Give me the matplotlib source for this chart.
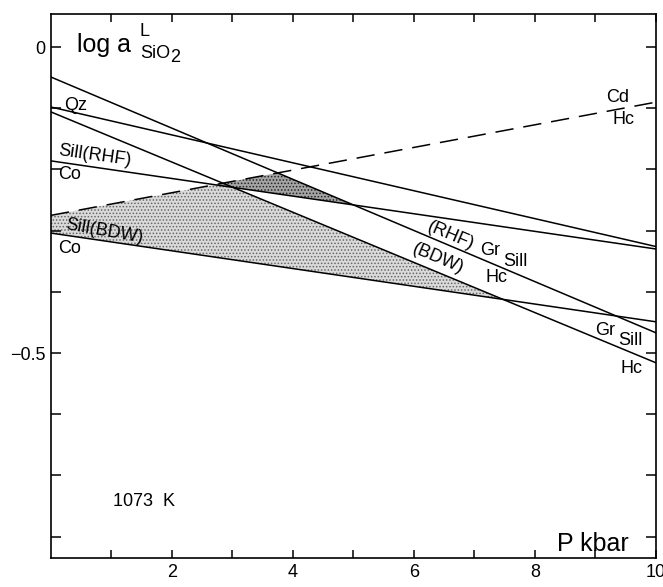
import matplotlib
matplotlib.use("Agg")
import matplotlib.pyplot as plt
import numpy as np

plt.rcParams['font.family'] = ['Liberation Sans', 'DejaVu Sans']
plt.rcParams['hatch.linewidth'] = 0.7

# pressure range (kbar) and log a(SiO2) at both ends of each reaction line
p_ends = [0.0, 10.0]
qz = [-0.098, -0.326]
sill_rhf_co = [-0.186, -0.330]
sill_bdw_co = [-0.304, -0.449]
gr_sill_hc_rhf = [-0.049, -0.467]
gr_sill_hc_bdw = [-0.106, -0.516]
cd_hc = [-0.275, -0.090]

x_ticks = [1, 2, 3, 4, 5, 6, 7, 8, 9, 10]
x_labels = ['', '2', '', '4', '', '6', '', '8', '', '10']
y_ticks = [0.0, -0.1, -0.2, -0.3, -0.4, -0.5, -0.6, -0.7, -0.8]
y_labels = ['0', '', '', '', '', '\u22120.5', '', '', '']

fig = plt.figure(figsize=(6.63, 5.87), dpi=100)
ax = fig.add_axes([0.0769, 0.0494, 0.9125, 0.9267])

lw = 1.1
for ys in (qz, sill_rhf_co, sill_bdw_co, gr_sill_hc_rhf, gr_sill_hc_bdw):
    ax.plot(p_ends, ys, color='black', lw=lw)
ax.plot(p_ends, cd_hc, color='black', lw=lw, ls=(0, (12, 6.5)))

# shaded fields between the reaction lines
p = np.linspace(0, 10, 801)
line = lambda ys: np.interp(p, p_ends, ys)
top_bdw = np.minimum(line(cd_hc), line(gr_sill_hc_bdw))
ax.fill_between(p, line(sill_bdw_co), top_bdw, where=top_bdw > line(sill_bdw_co),
                facecolor='#dadada', edgecolor='#666666', hatch='.....', lw=0)
top_rhf = np.minimum(line(cd_hc), line(gr_sill_hc_rhf))
ax.fill_between(p, line(sill_rhf_co), top_rhf, where=top_rhf > line(sill_rhf_co),
                facecolor='#a4a4a4', edgecolor='#222222', hatch='.....', lw=0)

ax.set_xlim(0, 10)
ax.set_ylim(-0.835, 0.054)
ax.set_xticks(x_ticks)
ax.set_xticklabels(x_labels)
ax.set_yticks(y_ticks)
ax.set_yticklabels(y_labels)
ax.tick_params(direction='in', width=1.1, labelsize=13,
               top=True, right=True, pad=4)
ax.tick_params(axis='x', length=5.5)
ax.tick_params(axis='y', length=7)
for s in ax.spines.values():
    s.set_linewidth(1.2)

fs = 13
ax.text(0.43, -0.008, 'log a', fontsize=18, ha='left', va='baseline')
ax.text(1.54, 0.026, 'L', fontsize=13, ha='center', va='center')
ax.text(1.47, -0.011, 'SiO', fontsize=13, ha='left', va='center')
ax.text(1.97, -0.017, '2', fontsize=13, ha='left', va='center')

ax.text(0.40, -0.096, 'Qz', fontsize=fs, ha='center', va='center')
ax.text(0.73, -0.178, 'Sill(RHF)', fontsize=fs, ha='center', va='center', rotation=-8)
ax.text(0.31, -0.208, 'Co', fontsize=fs, ha='center', va='center')
ax.text(0.89, -0.302, 'Sill(BDW)', fontsize=fs, ha='center', va='center', rotation=-10)
ax.text(0.31, -0.330, 'Co', fontsize=fs, ha='center', va='center')

ax.text(6.61, -0.309, '(RHF)', fontsize=fs, ha='center', va='center', rotation=-23)
ax.text(7.26, -0.332, 'Gr', fontsize=fs, ha='center', va='center')
ax.text(7.67, -0.351, 'Sill', fontsize=fs, ha='center', va='center')
ax.text(7.36, -0.377, 'Hc', fontsize=fs, ha='center', va='center')

ax.text(6.40, -0.346, '(BDW)', fontsize=fs, ha='center', va='center', rotation=-23)
ax.text(9.16, -0.464, 'Gr', fontsize=fs, ha='center', va='center')
ax.text(9.57, -0.480, 'Sill', fontsize=fs, ha='center', va='center')
ax.text(9.59, -0.526, 'Hc', fontsize=fs, ha='center', va='center')

ax.text(9.37, -0.083, 'Cd', fontsize=fs, ha='center', va='center')
ax.text(9.47, -0.119, 'Hc', fontsize=fs, ha='center', va='center')

ax.text(1.545, -0.742, '1073  K', fontsize=13, ha='center', va='center')
ax.text(8.36, -0.823, 'P kbar', fontsize=18, ha='left', va='baseline')

fig.savefig('out.png', dpi=100)
